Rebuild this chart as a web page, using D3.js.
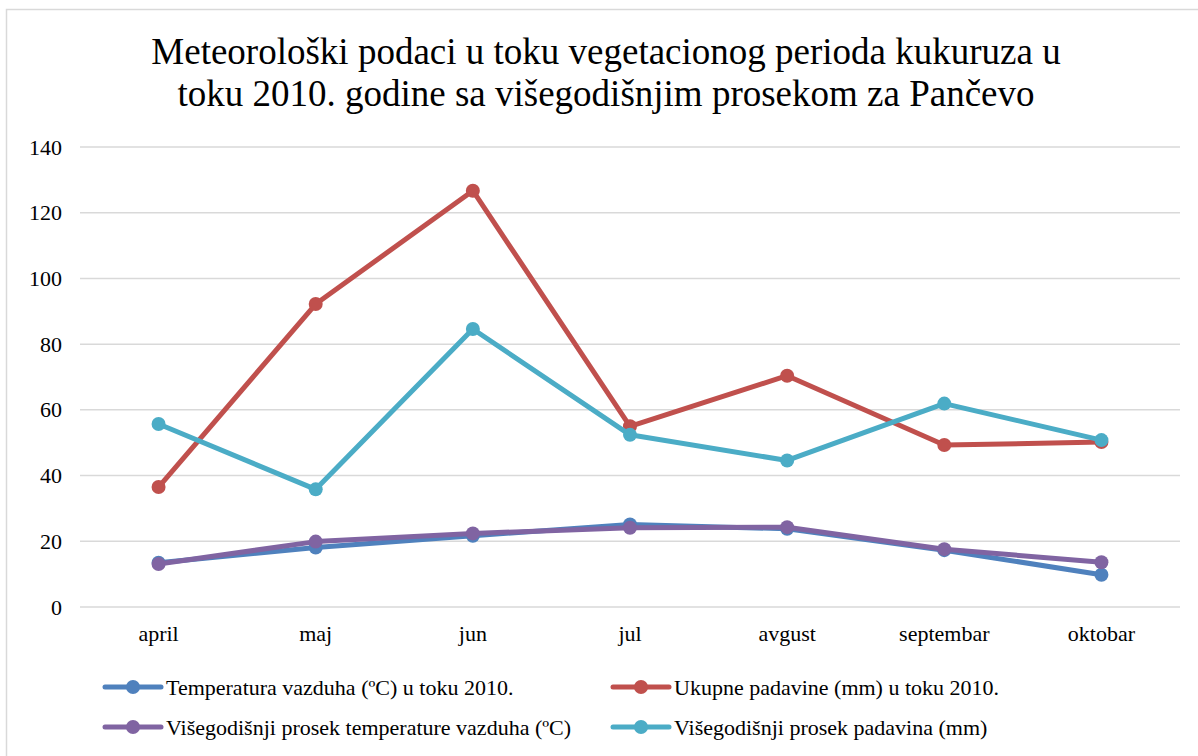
<!DOCTYPE html>
<html>
<head>
<meta charset="utf-8">
<script src="https://cdn.jsdelivr.net/npm/d3@7"></script>
<style>
  body { margin: 0; background: #fff; }
  svg text { font-family: 'Liberation Serif', 'DejaVu Serif', serif; fill: #000; }
</style>
</head>
<body>
<svg></svg>
<script>
// data
var months = ["april", "maj", "jun", "jul", "avgust", "septembar", "oktobar"];
var temp2010 = [13.5, 18.1, 21.7, 25.1, 23.8, 17.3, 9.8];
var rain2010 = [36.5, 92.2, 126.7, 55.0, 70.4, 49.3, 50.2];
var tempAvg = [13.1, 19.9, 22.4, 24.1, 24.3, 17.6, 13.6];
var rainAvg = [55.7, 35.8, 84.6, 52.4, 44.6, 61.9, 50.8];
var yTicks = [0, 20, 40, 60, 80, 100, 120, 140];
var seriesNames = [
  "Temperatura vazduha (ºC) u toku 2010.",
  "Ukupne padavine (mm) u toku 2010.",
  "Višegodišnji prosek temperature vazduha (ºC)",
  "Višegodišnji prosek padavina (mm)"
];
var colors = ["#4f81bd", "#c0504d", "#8064a2", "#4bacc6"];

var series = [temp2010, rain2010, tempAvg, rainAvg].map(function(vals, i) {
  return { name: seriesNames[i], color: colors[i], values: vals };
});

var serif = "'Liberation Serif', 'DejaVu Serif', serif";

// dimensions
var svgWidth = 1198;
var svgHeight = 756;
var margin = { top: 147, right: 18, bottom: 149, left: 80 };
var chartWidth = svgWidth - margin.left - margin.right;
var chartHeight = svgHeight - margin.top - margin.bottom;

var svg = d3.select("svg")
  .attr("width", svgWidth)
  .attr("height", svgHeight)
  .attr("font-family", serif);

// chart border
svg.append("rect")
  .attr("x", 6.5).attr("y", 9.5)
  .attr("width", svgWidth + 10).attr("height", svgHeight + 10)
  .attr("fill", "none")
  .attr("stroke", "#d9d9d9")
  .attr("stroke-width", 1.5);

// title
var title = svg.append("text")
  .attr("text-anchor", "middle")
  .attr("font-family", serif)
  .style("font-size", "37px");
title.append("tspan").attr("x", 606).attr("y", 64)
  .text("Meteorološki podaci u toku vegetacionog perioda kukuruza u");
title.append("tspan").attr("x", 606).attr("y", 106)
  .text("toku 2010. godine sa višegodišnjim prosekom za Pančevo");

var chartGroup = svg.append("g")
  .attr("transform", `translate(${margin.left}, ${margin.top})`);

var xBandScale = d3.scaleBand()
  .domain(months)
  .range([0, chartWidth]);

var yLinearScale = d3.scaleLinear()
  .domain([0, 140])
  .range([chartHeight, 0]);

// gridlines
chartGroup.selectAll(".grid")
  .data(yTicks)
  .enter()
  .append("line")
  .attr("x1", 0)
  .attr("x2", chartWidth)
  .attr("y1", d => yLinearScale(d))
  .attr("y2", d => yLinearScale(d))
  .attr("stroke", "#d9d9d9")
  .attr("stroke-width", 1.5);

// axes (no domain lines, text only)
var leftAxis = d3.axisLeft(yLinearScale).tickValues(yTicks).tickSize(0).tickPadding(18);
var bottomAxis = d3.axisBottom(xBandScale).tickSize(0).tickPadding(18);

var yAxisG = chartGroup.append("g").call(leftAxis);
var xAxisG = chartGroup.append("g")
  .attr("transform", `translate(0,${chartHeight})`)
  .call(bottomAxis);

[yAxisG, xAxisG].forEach(function(g) {
  g.attr("font-family", serif).attr("font-size", 22);
  g.select(".domain").remove();
  g.selectAll("text")
    .attr("fill", "#000");
});

// lines
var drawLine = d3.line()
  .x((d, i) => xBandScale(months[i]) + xBandScale.bandwidth() / 2)
  .y(d => yLinearScale(d));

series.forEach(function(s) {
  chartGroup.append("path")
    .attr("d", drawLine(s.values))
    .attr("fill", "none")
    .attr("stroke", s.color)
    .attr("stroke-width", 5)
    .attr("stroke-linejoin", "round");

  chartGroup.selectAll(null)
    .data(s.values)
    .enter()
    .append("circle")
    .attr("cx", (d, i) => xBandScale(months[i]) + xBandScale.bandwidth() / 2)
    .attr("cy", d => yLinearScale(d))
    .attr("r", 7)
    .attr("fill", s.color);
});

// legend
var legendPos = [
  { x: 105, y: 687 },
  { x: 613, y: 687 },
  { x: 105, y: 727 },
  { x: 613, y: 727 }
];

series.forEach(function(s, i) {
  var lg = svg.append("g")
    .attr("transform", `translate(${legendPos[i].x}, ${legendPos[i].y})`);
  lg.append("line")
    .attr("x1", 0).attr("x2", 56)
    .attr("y1", 0).attr("y2", 0)
    .attr("stroke", s.color)
    .attr("stroke-width", 5)
    .attr("stroke-linecap", "round");
  lg.append("circle")
    .attr("cx", 28).attr("cy", 0).attr("r", 7)
    .attr("fill", s.color);
  lg.append("text")
    .attr("x", 61)
    .attr("y", 8)
    .attr("font-family", serif)
    .style("font-size", "22px")
    .text(s.name);
});
</script>
</body>
</html>
